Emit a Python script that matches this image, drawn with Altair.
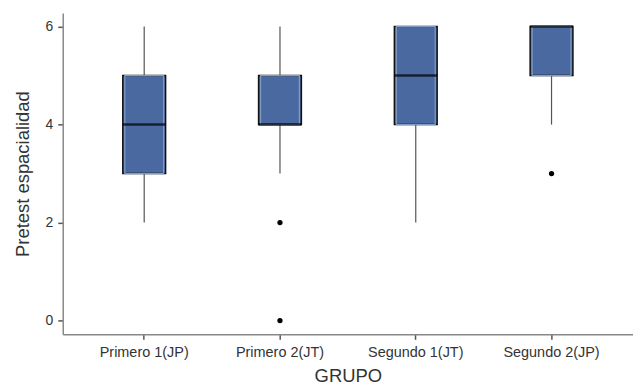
import altair as alt
import pandas as pd

grupos = ["Primero 1(JP)", "Primero 2(JT)", "Segundo 1(JT)", "Segundo 2(JP)"]
w_low = [2, 3, 2, 4]
q1 = [3, 4, 4, 5]
median = [4, 4, 5, 6]
q3 = [5, 5, 6, 6]
w_high = [6, 6, 6, 6]

out_grupo = ["Primero 2(JT)", "Primero 2(JT)", "Segundo 2(JP)"]
out_val = [2, 0, 3]

stats = pd.DataFrame({"GRUPO": grupos, "lo": w_low, "q1": q1, "med": median,
                      "q3": q3, "hi": w_high})
outs = pd.DataFrame({"GRUPO": out_grupo, "v": out_val})

xenc = alt.X("GRUPO:N", sort=grupos, title="GRUPO",
             scale=alt.Scale(paddingInner=0, paddingOuter=0.1),
             axis=alt.Axis(labelAngle=0, labelFontSize=14.5, labelColor="#333333",
                           titleFontSize=18.5, titleFontWeight="normal", titleColor="#333333",
                           titlePadding=8, domainColor="#888888", domainWidth=1.5,
                           tickColor="#555555", tickSize=5, tickWidth=1.5, labelPadding=6))
yscale = alt.Scale(domain=[-0.28, 6.28], nice=False, zero=False)
yaxis = alt.Axis(values=[0, 2, 4, 6], grid=False, labelFontSize=14, labelColor="#333333",
                 titleFontSize=18.5, titleFontWeight="normal", titleColor="#333333",
                 titlePadding=13, domainColor="#888888", domainWidth=1.5,
                 tickColor="#555555", tickSize=5, tickWidth=1.5, labelPadding=5)

base = alt.Chart(stats).encode(x=xenc)

whisk = base.mark_rule(color="#555555", strokeWidth=1.2).encode(
    y=alt.Y("lo:Q", scale=yscale, axis=yaxis, title="Pretest espacialidad"),
    y2="hi:Q")
box = base.mark_bar(size=43, color="#4a69a0", stroke="#111111", strokeWidth=1.5).encode(
    y="q1:Q", y2="q3:Q")
inner = base.mark_bar(size=39, fillOpacity=0, stroke="#7e9cc6", strokeWidth=1.2).encode(
    y="q1:Q", y2="q3:Q")
med = base.mark_tick(size=43, thickness=2.5, color="#000000").encode(y="med:Q")
pts = alt.Chart(outs).mark_circle(size=28, color="#000000", opacity=1).encode(
    x=alt.X("GRUPO:N", sort=grupos), y="v:Q")

chart = alt.layer(whisk, box, inner, med, pts).properties(
    width=573, height=323,
    padding={"top": 4, "left": 5, "right": 0, "bottom": 0}
).configure(font="Liberation Sans").configure_view(strokeWidth=0, stroke=None)

chart.save("out.html", embed_options={"renderer": "svg", "actions": False})
